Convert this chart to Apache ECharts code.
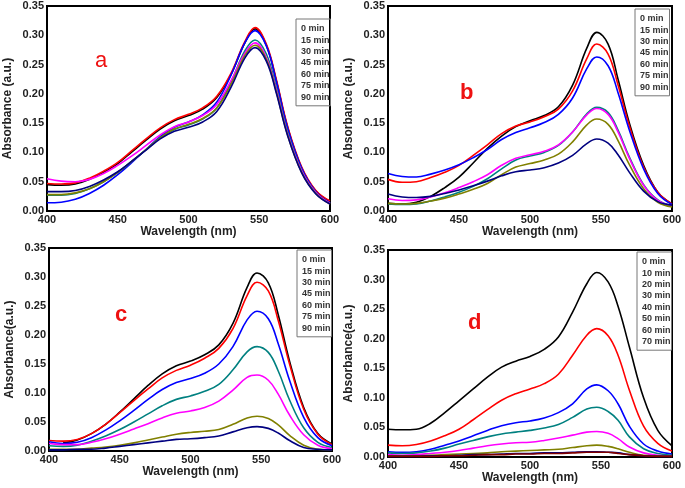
<!DOCTYPE html>
<html><head><meta charset="utf-8">
<script src="https://cdn.jsdelivr.net/npm/echarts@6/dist/echarts.min.js"></script>
<style>html,body{margin:0;padding:0;background:#fff}#c{width:685px;height:488px}</style>
</head><body><div id="c"></div>
<script>
const wavelengths = [400,410,420,430,440,450,460,470,480,490,500,510,520,530,540,547,555,562,570,580,590,600];
const xTicks = [400,450,500,550,600];
const yTicks = [0,0.05,0.10,0.15,0.20,0.25,0.30,0.35];

const namesABC = ['0 min','15 min','30 min','45 min','60 min','75 min','90 min'];
const namesD = ['0 min','10 min','20 min','30 min','40 min','50 min','60 min','70 min'];

// Panel a
const a0  = [0.045,0.044,0.046,0.054,0.066,0.081,0.101,0.121,0.140,0.154,0.163,0.174,0.194,0.233,0.288,0.311,0.283,0.223,0.143,0.073,0.034,0.016];
const a15 = [0.047,0.046,0.048,0.056,0.068,0.083,0.103,0.123,0.142,0.156,0.165,0.176,0.196,0.235,0.290,0.313,0.285,0.225,0.145,0.075,0.035,0.017];
const a30 = [0.014,0.015,0.020,0.030,0.044,0.062,0.083,0.105,0.127,0.143,0.152,0.164,0.186,0.232,0.288,0.308,0.282,0.222,0.142,0.073,0.033,0.014];
const a45 = [0.027,0.027,0.030,0.038,0.050,0.066,0.085,0.105,0.125,0.139,0.147,0.157,0.176,0.220,0.274,0.292,0.268,0.211,0.135,0.069,0.031,0.013];
const a60 = [0.055,0.051,0.050,0.054,0.064,0.078,0.094,0.112,0.130,0.144,0.152,0.163,0.182,0.222,0.270,0.287,0.262,0.207,0.132,0.068,0.031,0.013];
const a75 = [0.028,0.028,0.031,0.038,0.050,0.066,0.085,0.105,0.125,0.140,0.148,0.158,0.176,0.216,0.266,0.283,0.259,0.204,0.130,0.066,0.030,0.012];
const a90 = [0.033,0.033,0.035,0.042,0.053,0.067,0.085,0.104,0.123,0.136,0.143,0.152,0.170,0.211,0.262,0.279,0.256,0.202,0.129,0.065,0.029,0.012];

// Panel b
const b0  = [0.013,0.012,0.015,0.025,0.040,0.058,0.082,0.107,0.128,0.144,0.154,0.163,0.178,0.215,0.278,0.305,0.285,0.225,0.150,0.078,0.032,0.012];
const b15 = [0.054,0.049,0.050,0.057,0.066,0.078,0.095,0.113,0.132,0.145,0.152,0.161,0.174,0.205,0.260,0.285,0.268,0.215,0.145,0.075,0.032,0.012];
const b30 = [0.064,0.059,0.058,0.063,0.070,0.079,0.091,0.105,0.122,0.134,0.142,0.151,0.165,0.193,0.243,0.263,0.248,0.202,0.138,0.072,0.030,0.011];
const b45 = [0.012,0.011,0.012,0.017,0.024,0.032,0.042,0.055,0.072,0.087,0.094,0.100,0.112,0.135,0.166,0.177,0.168,0.138,0.092,0.045,0.019,0.009];
const b60 = [0.021,0.018,0.019,0.024,0.031,0.040,0.050,0.062,0.078,0.090,0.096,0.102,0.113,0.135,0.164,0.175,0.165,0.135,0.090,0.044,0.018,0.009];
const b75 = [0.013,0.012,0.013,0.017,0.022,0.029,0.037,0.047,0.062,0.075,0.081,0.087,0.097,0.118,0.147,0.157,0.148,0.120,0.079,0.038,0.015,0.007];
const b90 = [0.029,0.024,0.023,0.025,0.030,0.036,0.043,0.051,0.060,0.067,0.070,0.074,0.082,0.095,0.115,0.123,0.116,0.096,0.066,0.034,0.016,0.010];

// Panel c
const c0  = [null,0.014,0.019,0.030,0.046,0.067,0.090,0.113,0.133,0.147,0.155,0.166,0.183,0.220,0.282,0.307,0.290,0.235,0.155,0.075,0.030,0.012];
const c15 = [0.018,0.017,0.020,0.030,0.046,0.066,0.087,0.107,0.126,0.139,0.148,0.160,0.177,0.211,0.268,0.291,0.276,0.225,0.150,0.072,0.029,0.011];
const c30 = [0.016,0.013,0.015,0.023,0.036,0.052,0.070,0.089,0.106,0.118,0.125,0.134,0.150,0.180,0.226,0.241,0.228,0.185,0.122,0.058,0.023,0.009];
const c45 = [0.009,0.008,0.010,0.017,0.026,0.037,0.050,0.064,0.078,0.089,0.095,0.103,0.115,0.140,0.171,0.180,0.170,0.138,0.088,0.040,0.015,0.006];
const c60 = [0.013,0.011,0.011,0.015,0.021,0.029,0.038,0.047,0.057,0.065,0.069,0.075,0.086,0.105,0.127,0.131,0.122,0.098,0.062,0.028,0.010,0.004];
const c75 = [0.003,0.003,0.003,0.005,0.007,0.010,0.014,0.019,0.024,0.029,0.032,0.034,0.037,0.046,0.057,0.060,0.056,0.045,0.027,0.010,0.003,0.002];
const c90 = [0.002,0.002,0.003,0.003,0.005,0.008,0.011,0.014,0.017,0.020,0.021,0.023,0.026,0.033,0.040,0.042,0.039,0.031,0.018,0.006,0.003,0.002];

// Panel d
const d0  = [0.047,0.046,0.047,0.057,0.075,0.095,0.115,0.135,0.152,0.162,0.170,0.182,0.203,0.245,0.293,0.312,0.296,0.255,0.186,0.100,0.045,0.019];
const d10 = [0.020,0.019,0.021,0.027,0.036,0.047,0.063,0.080,0.096,0.107,0.115,0.124,0.140,0.172,0.206,0.217,0.205,0.172,0.113,0.052,0.023,0.010];
const d20 = [0.009,0.008,0.009,0.013,0.020,0.027,0.036,0.045,0.053,0.058,0.061,0.066,0.075,0.090,0.115,0.122,0.112,0.090,0.052,0.022,0.010,0.005];
const d30 = [0.007,0.006,0.007,0.010,0.015,0.022,0.028,0.034,0.039,0.042,0.045,0.049,0.055,0.067,0.081,0.084,0.077,0.062,0.034,0.014,0.006,0.003];
const d40 = [0.004,0.003,0.004,0.006,0.008,0.011,0.015,0.019,0.022,0.024,0.025,0.028,0.032,0.037,0.042,0.043,0.040,0.031,0.017,0.007,0.003,0.002];
const d50 = [0.002,0.002,0.002,0.003,0.004,0.005,0.006,0.007,0.009,0.010,0.011,0.012,0.013,0.016,0.019,0.020,0.018,0.014,0.008,0.003,0.002,0.001];
const d60 = [0.001,0.001,0.001,0.002,0.002,0.003,0.004,0.004,0.005,0.006,0.006,0.007,0.007,0.008,0.009,0.009,0.008,0.007,0.004,0.002,0.001,0.001];
const d70 = [0.001,0.001,0.001,0.001,0.002,0.002,0.003,0.004,0.004,0.005,0.005,0.006,0.006,0.007,0.008,0.008,0.008,0.006,0.004,0.002,0.001,0.001];

const colors = ['#000000','#ff0000','#0000ff','#008080','#ff00ff','#808000','#000080','#800000'];

const panels = [
  {names: namesABC, data: [a0,a15,a30,a45,a60,a75,a90], grid:{left:47,top:6,width:283,height:205}, yName:'Absorbance (a.u.)', letter:'a', lx:102, ly:63, lfw:'normal', legend:{left:296,top:19}},
  {names: namesABC, data: [b0,b15,b30,b45,b60,b75,b90], grid:{left:388,top:6,width:284,height:205}, yName:'Absorbance (a.u.)', letter:'b', lx:467, ly:95, lfw:'bold', legend:{left:635,top:9}},
  {names: namesABC, data: [c0,c15,c30,c45,c60,c75,c90], grid:{left:49,top:248,width:283,height:203}, yName:'Absorbance(a.u.)', letter:'c', lx:122, ly:317, lfw:'bold', legend:{left:297,top:250}},
  {names: namesD, data: [d0,d10,d20,d30,d40,d50,d60,d70], grid:{left:388,top:250,width:284,height:207}, yName:'Absorbance(a.u.)', letter:'d', lx:475, ly:325, lfw:'bold', legend:{left:637,top:252}}
];

const FONT = 'Liberation Sans, Arial, sans-serif';
const grid = [], xAxis = [], yAxis = [], series = [], legend = [], graphic = [];
panels.forEach((p, i) => {
  grid.push(Object.assign({show:true, borderColor:'#000', borderWidth:2, containLabel:false}, p.grid));
  xAxis.push({type:'value', gridIndex:i, min:xTicks[0], max:xTicks[xTicks.length-1], interval:50,
    name:'Wavelength (nm)', nameLocation:'middle', nameGap:15,
    nameTextStyle:{fontFamily:FONT, fontWeight:'bold', fontSize:12, color:'#222'},
    axisLine:{show:true, lineStyle:{color:'#000', width:2}}, axisTick:{show:false}, splitLine:{show:false},
    axisLabel:{fontFamily:FONT, fontWeight:'bold', fontSize:11, color:'#222', margin:3}});
  yAxis.push({type:'value', gridIndex:i, min:0, max:0.35, interval:0.05,
    name:p.yName, nameLocation:'middle', nameGap:33,
    nameTextStyle:{fontFamily:FONT, fontWeight:'bold', fontSize:12, color:'#222'},
    axisLine:{show:true, lineStyle:{color:'#000', width:2}}, axisTick:{show:false}, splitLine:{show:false},
    axisLabel:{fontFamily:FONT, fontWeight:'bold', fontSize:11, color:'#222', margin:3, formatter:v=>v.toFixed(2)}});
  p.names.forEach((nm, k) => {
    series.push({type:'line', name:nm, xAxisIndex:i, yAxisIndex:i, smooth:0.4, symbol:'none',
      lineStyle:{width:1.6, color:colors[k]}, itemStyle:{color:colors[k]},
      data: wavelengths.map((w, j) => [w, p.data[k][j]])});
  });
  legend.push({orient:'vertical', left:p.legend.left, top:p.legend.top, data:p.names.slice(),
    icon:'none', itemWidth:0, itemHeight:8, itemGap:0, padding:[4,1,3,0],
    borderColor:'#777', borderWidth:1, selectedMode:false,
    textStyle:{fontFamily:FONT, fontWeight:'bold', fontSize:9, color:'#333', lineHeight:11.4, padding:0}});
  graphic.push({type:'text', left:p.lx - 7, top:p.ly - 13,
    style:{text:p.letter, fill:'#ee1111', font: p.lfw + ' 22px ' + FONT}});
});

const chart = echarts.init(document.getElementById('c'), null, {renderer:'canvas'});
chart.setOption({animation:false, backgroundColor:'#fff', grid, xAxis, yAxis, series, legend, graphic});
</script></body></html>
